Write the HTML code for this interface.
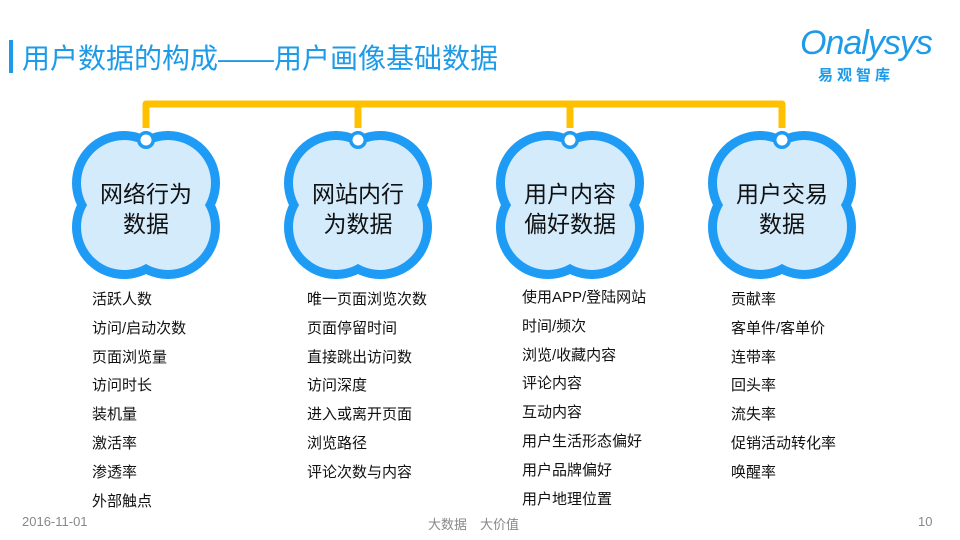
<!DOCTYPE html>
<html><head><meta charset="utf-8"><style>
body{margin:0;width:960px;height:540px;background:#fff;position:relative;overflow:hidden;font-family:"Liberation Sans","Noto Sans CJK SC",sans-serif}
.t{position:absolute;white-space:nowrap}
.col{position:absolute;font-size:15px;color:#111;line-height:28.8px}
.ft{position:absolute;font-size:13px;color:#888;top:514px}
</style></head><body>
<div style="position:absolute;left:9px;top:40px;width:4px;height:33px;background:#1e9be8"></div>
<div class="t" style="left:22px;top:37px;font-size:28px;color:#1e9be8">用户数据的构成——用户画像基础数据</div>
<div class="t" style="left:800px;top:24px;font-size:34px;color:#1e9be8;font-style:italic;letter-spacing:-1px">Onalysys</div>
<div class="t" style="left:818px;top:64px;font-size:15px;color:#1e9be8;letter-spacing:4px;font-weight:bold">易观智库</div>
<svg width="960" height="540" style="position:absolute;left:0;top:0">
<defs>
<g id="c">
<g fill="#1e9bf5"><circle cx="-22" cy="-22" r="52"/><circle cx="22" cy="-22" r="52"/><circle cx="-22" cy="22" r="52"/><circle cx="22" cy="22" r="52"/></g>
<g fill="#d4ebfc"><circle cx="-22" cy="-22" r="43"/><circle cx="22" cy="-22" r="43"/><circle cx="-22" cy="22" r="43"/><circle cx="22" cy="22" r="43"/></g>
<circle cx="0" cy="-65" r="9" fill="#1e9bf5"/><circle cx="0" cy="-65" r="5.5" fill="#fff"/>
</g>
</defs>
<path d="M146 128 V104 H782 V128 M358 104 V128 M570 104 V128" fill="none" stroke="#ffc000" stroke-width="7" stroke-linejoin="round"/>
<use href="#c" transform="translate(146,205)"/>
<use href="#c" transform="translate(358,205)"/>
<use href="#c" transform="translate(570,205)"/>
<use href="#c" transform="translate(782,205)"/>
<g font-size="23" fill="#111" text-anchor="middle" font-family="Liberation Sans, Noto Sans CJK SC, sans-serif">
<text x="146" y="202">网络行为</text><text x="146" y="232">数据</text>
<text x="358" y="202">网站内行</text><text x="358" y="232">为数据</text>
<text x="570" y="202">用户内容</text><text x="570" y="232">偏好数据</text>
<text x="782" y="202">用户交易</text><text x="782" y="232">数据</text>
</g>
</svg>
<div class="col" style="left:92px;top:286px">活跃人数<br>访问/启动次数<br>页面浏览量<br>访问时长<br>装机量<br>激活率<br>渗透率<br>外部触点</div>
<div class="col" style="left:307px;top:286px">唯一页面浏览次数<br>页面停留时间<br>直接跳出访问数<br>访问深度<br>进入或离开页面<br>浏览路径<br>评论次数与内容</div>
<div class="col" style="left:522px;top:284px">使用APP/登陆网站<br>时间/频次<br>浏览/收藏内容<br>评论内容<br>互动内容<br>用户生活形态偏好<br>用户品牌偏好<br>用户地理位置</div>
<div class="col" style="left:731px;top:286px">贡献率<br>客单件/客单价<br>连带率<br>回头率<br>流失率<br>促销活动转化率<br>唤醒率</div>
<div class="ft" style="left:22px">2016-11-01</div>
<div class="ft" style="left:428px">大数据　大价值</div>
<div class="ft" style="left:918px">10</div>
</body></html>
